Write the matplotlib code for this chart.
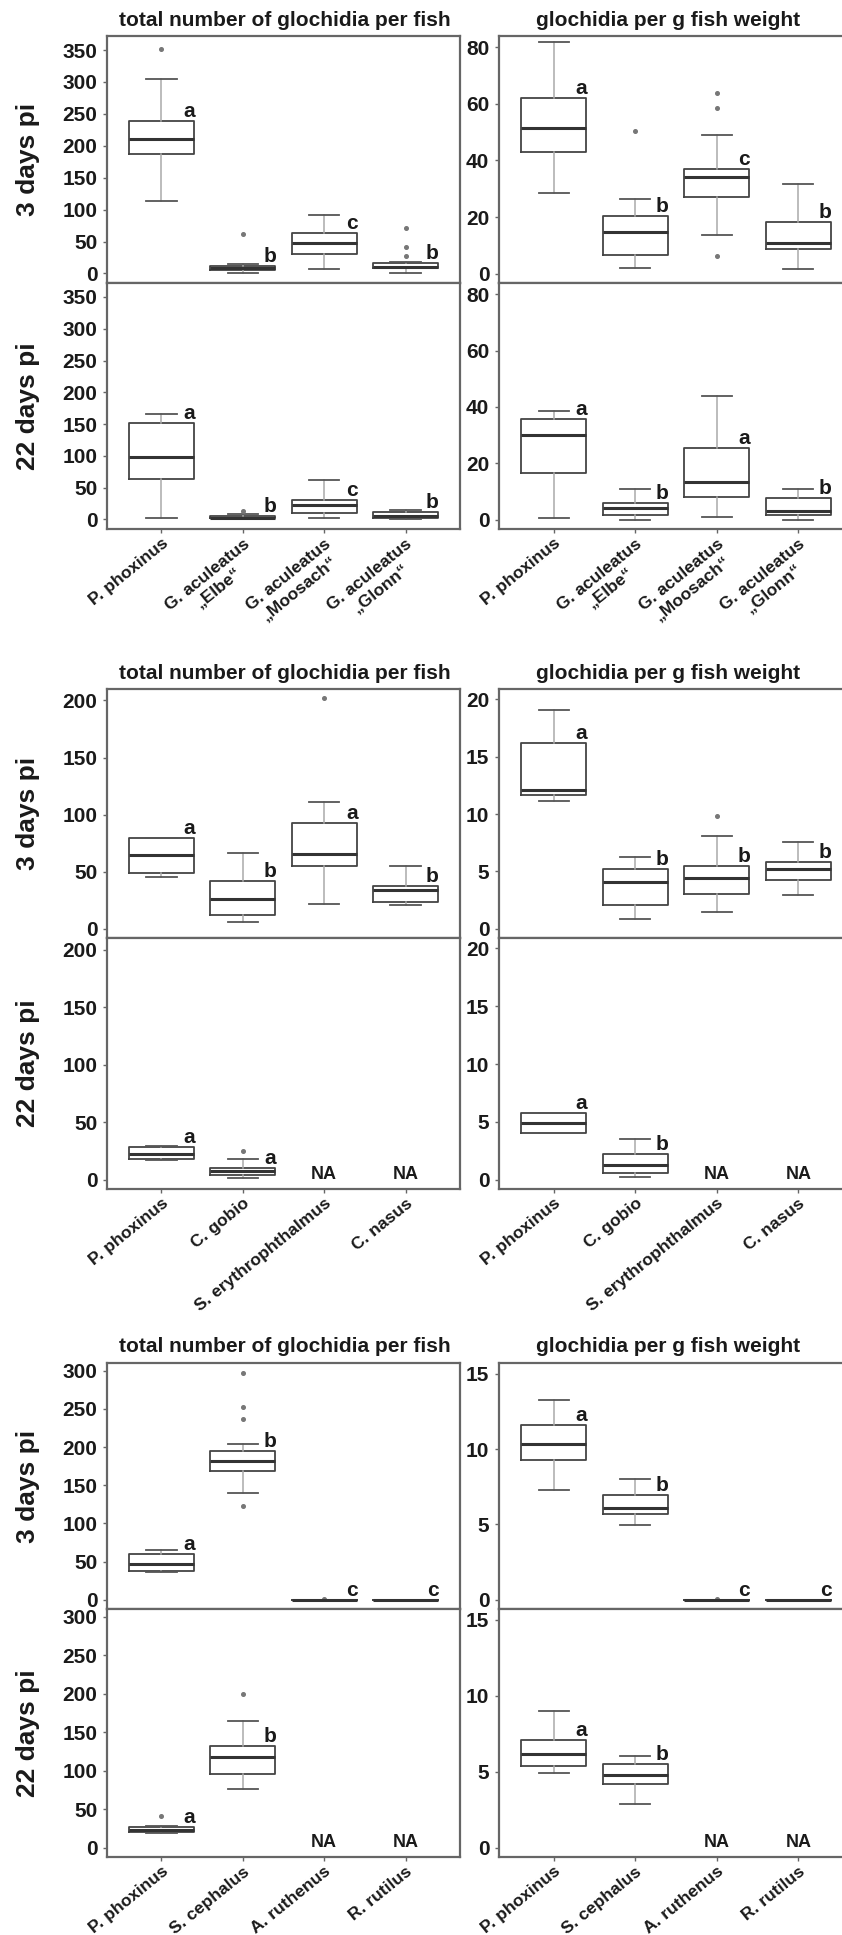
import matplotlib
matplotlib.use("Agg")
import matplotlib.pyplot as plt
from matplotlib.transforms import blended_transform_factory

plt.rcParams["font.family"] = ["Liberation Sans", "DejaVu Sans"]

# Box statistics: [whisker low, Q1, median, Q3, whisker high]
# None = no data (NA)

# ---- block 1 ----
species1 = ["P. phoxinus", "G. aculeatus\n\u201eElbe\u201c",
            "G. aculeatus\n\u201eMoosach\u201c", "G. aculeatus\n\u201eGlonn\u201c"]
b1_total_3d = [[113, 187, 211, 239, 305], [1, 5, 9, 12, 15],
               [7, 31, 48, 64, 92], [1, 8, 10, 16, 18]]
b1_total_3d_out = [[352], [61], [], [28, 41, 71]]
b1_total_3d_let = ["a", "b", "c", "b"]
b1_total_22d = [[3, 64, 99, 151, 166], [0, 2, 3, 5, 8],
                [2, 10, 22, 31, 62], [1, 2, 6, 12, 15]]
b1_total_22d_out = [[], [13], [], []]
b1_total_22d_let = ["a", "b", "c", "b"]
b1_weight_3d = [[28.6, 43, 51.6, 62, 82], [2, 6.7, 14.7, 20.4, 26.4],
                [13.7, 27, 34, 37, 49], [1.6, 8.7, 10.8, 18.4, 31.7]]
b1_weight_3d_out = [[], [50.5], [6.4, 58.7, 64], []]
b1_weight_3d_let = ["a", "b", "c", "b"]
b1_weight_22d = [[0.5, 16.4, 30.2, 35.7, 38.4], [0, 1.8, 4.2, 5.9, 10.8],
                 [0.9, 8, 13.5, 25.5, 44], [0, 1.8, 3.2, 7.7, 10.9]]
b1_weight_22d_out = [[], [], [], []]
b1_weight_22d_let = ["a", "b", "a", "b"]

# ---- block 2 ----
species2 = ["P. phoxinus", "C. gobio", "S. erythrophthalmus", "C. nasus"]
b2_total_3d = [[45.3, 48.8, 64.8, 79.4, 79.4], [5.8, 12.5, 26.2, 41.5, 66.8],
               [22, 54.6, 65.4, 92.4, 111.3], [21.2, 23.5, 33.7, 37.2, 55.2]]
b2_total_3d_out = [[], [], [202], []]
b2_total_3d_let = ["a", "b", "a", "b"]
b2_total_22d = [[17, 18, 22.7, 28.5, 29], [1.5, 4.4, 7.3, 10.2, 18], None, None]
b2_total_22d_out = [[], [25], [], []]
b2_total_22d_let = ["a", "a", None, None]
b2_weight_3d = [[11.1, 11.65, 12.1, 16.2, 19.1], [0.84, 2.1, 4.1, 5.2, 6.3],
                [1.5, 3.04, 4.4, 5.5, 8.06], [2.96, 4.26, 5.2, 5.85, 7.6]]
b2_weight_3d_out = [[], [], [9.85], []]
b2_weight_3d_let = ["a", "b", "b", "b"]
b2_weight_22d = [[4.0, 4.08, 4.9, 5.74, 5.74], [0.27, 0.58, 1.31, 2.24, 3.55], None, None]
b2_weight_22d_out = [[], [], [], []]
b2_weight_22d_let = ["a", "b", None, None]

# ---- block 3 ----
species3 = ["P. phoxinus", "S. cephalus", "A. ruthenus", "R. rutilus"]
b3_total_3d = [[36.2, 37.9, 46.6, 59.7, 65], [140, 169, 181.5, 195, 204.6],
               [0, 0, 0, 0, 0], [0, 0, 0, 0, 0]]
b3_total_3d_out = [[], [123, 237, 252, 297], [1], []]
b3_total_3d_let = ["a", "b", "c", "c"]
b3_total_22d = [[19, 20.9, 23.6, 26.7, 28], [76.4, 96.4, 117.8, 132, 165], None, None]
b3_total_22d_out = [[41], [199], [], []]
b3_total_22d_let = ["a", "b", None, None]
b3_weight_3d = [[7.28, 9.3, 10.3, 11.57, 13.25], [4.97, 5.68, 6.12, 6.93, 8.04],
                [0, 0, 0, 0, 0], [0, 0, 0, 0, 0]]
b3_weight_3d_out = [[], [], [0.05], []]
b3_weight_3d_let = ["a", "b", "c", "c"]
b3_weight_22d = [[4.89, 5.37, 6.15, 7.07, 8.98], [2.87, 4.2, 4.78, 5.5, 6.05], None, None]
b3_weight_22d_out = [[], [], [], []]
b3_weight_22d_let = ["a", "b", None, None]

W, H = 842, 1935
fig = plt.figure(figsize=(W / 100, H / 100), dpi=100)

EDGE = "#666666"
INK = "#1a1a1a"


def px_axes(x0, y0, x1, y1):
    return fig.add_axes([x0 / W, 1 - y1 / H, (x1 - x0) / W, (y1 - y0) / H])


def draw_panel(ax, stats, outs, letters, ylim, yticks, labels=None):
    boxes, pos = [], []
    for i, (s, o) in enumerate(zip(stats, outs)):
        if s is None:
            continue
        boxes.append(dict(whislo=s[0], q1=s[1], med=s[2], q3=s[3], whishi=s[4], fliers=o))
        pos.append(i + 1)
    ax.bxp(boxes, positions=pos, widths=0.8, capwidths=0.37, manage_ticks=False,
           boxprops=dict(color="#444444", linewidth=1.3),
           medianprops=dict(color="#333333", linewidth=2.2),
           whiskerprops=dict(color="#aaaaaa", linewidth=1.1),
           capprops=dict(color="#555555", linewidth=1.3),
           flierprops=dict(marker="o", markersize=2.6, markerfacecolor="#777777",
                           markeredgecolor="#777777"))
    trans = blended_transform_factory(ax.transData, ax.transAxes)
    for i, (s, let) in enumerate(zip(stats, letters)):
        if s is None:
            ax.text(i + 1, 0.025, "NA", transform=trans, ha="center", va="bottom",
                    fontsize=13, fontweight="bold", color=INK)
        else:
            ax.text(i + 1.41, s[3], let, ha="right", va="bottom",
                    fontsize=15, fontweight="bold", color=INK)
    ax.set_xlim(0.33, 4.67)
    ax.set_ylim(*ylim)
    ax.set_yticks(yticks)
    ax.tick_params(axis="y", length=3, width=1, color=EDGE, pad=4,
                   labelsize=15, labelcolor=INK)
    for lab in ax.get_yticklabels():
        lab.set_fontweight("bold")
    if labels is None:
        ax.set_xticks([])
    else:
        ax.set_xticks([1, 2, 3, 4])
        ax.set_xticklabels(labels, rotation=39, ha="right", va="top",
                           rotation_mode="anchor", multialignment="center",
                           fontsize=12.5, fontweight="bold", color=INK)
        ax.tick_params(axis="x", length=3, width=1, color=EDGE, pad=2)
    for sp in ax.spines.values():
        sp.set_color(EDGE)
        sp.set_linewidth(1.6)


blocks = [
    dict(rows=(36, 283, 529), species=species1,
         left=[(b1_total_3d, b1_total_3d_out, b1_total_3d_let),
               (b1_total_22d, b1_total_22d_out, b1_total_22d_let)],
         right=[(b1_weight_3d, b1_weight_3d_out, b1_weight_3d_let),
                (b1_weight_22d, b1_weight_22d_out, b1_weight_22d_let)],
         lylim=(-15, 372), lticks=[0, 50, 100, 150, 200, 250, 300, 350],
         rylim=(-3.3, 84), rticks=[0, 20, 40, 60, 80], title_y=20),
    dict(rows=(689, 938, 1189), species=species2,
         left=[(b2_total_3d, b2_total_3d_out, b2_total_3d_let),
               (b2_total_22d, b2_total_22d_out, b2_total_22d_let)],
         right=[(b2_weight_3d, b2_weight_3d_out, b2_weight_3d_let),
                (b2_weight_22d, b2_weight_22d_out, b2_weight_22d_let)],
         lylim=(-8, 210), lticks=[0, 50, 100, 150, 200],
         rylim=(-0.8, 20.9), rticks=[0, 5, 10, 15, 20], title_y=673),
    dict(rows=(1363, 1609, 1857), species=species3,
         left=[(b3_total_3d, b3_total_3d_out, b3_total_3d_let),
               (b3_total_22d, b3_total_22d_out, b3_total_22d_let)],
         right=[(b3_weight_3d, b3_weight_3d_out, b3_weight_3d_let),
                (b3_weight_22d, b3_weight_22d_out, b3_weight_22d_let)],
         lylim=(-12, 310), lticks=[0, 50, 100, 150, 200, 250, 300],
         rylim=(-0.6, 15.7), rticks=[0, 5, 10, 15], title_y=1347),
]

row_names = ["3 days pi", "22 days pi"]

for blk in blocks:
    top, mid, bot = blk["rows"]
    spans = [(top, mid), (mid, bot)]
    for r, (y0, y1) in enumerate(spans):
        labels = blk["species"] if r == 1 else None
        axl = px_axes(107, y0, 460, y1)
        draw_panel(axl, *blk["left"][r], blk["lylim"], blk["lticks"], labels)
        axr = px_axes(499, y0, 853, y1)
        draw_panel(axr, *blk["right"][r], blk["rylim"], blk["rticks"], labels)
        fig.text(28 / W, 1 - (y0 + y1) / 2 / H, row_names[r], rotation=90,
                 ha="center", va="center", fontsize=19, fontweight="bold", color=INK)
    fig.text(285 / W, 1 - blk["title_y"] / H, "total number of glochidia per fish",
             ha="center", va="center", fontsize=15, fontweight="bold", color=INK)
    fig.text(668 / W, 1 - blk["title_y"] / H, "glochidia per g fish weight",
             ha="center", va="center", fontsize=15, fontweight="bold", color=INK)

fig.savefig("out.png", dpi=100)
